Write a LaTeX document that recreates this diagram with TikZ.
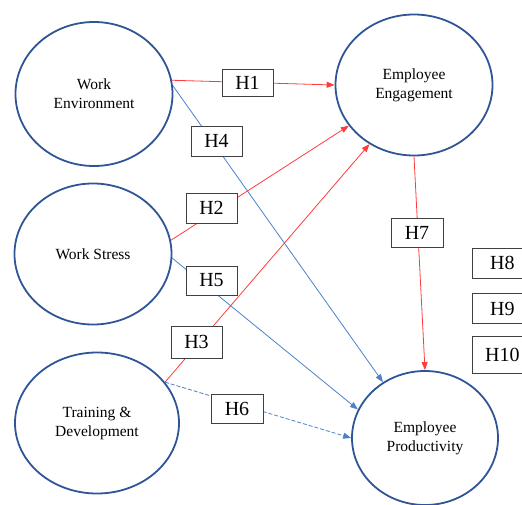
\documentclass[tikz,border=0pt]{standalone}
\usepackage{fontspec}
\setmainfont{Liberation Serif}
\usetikzlibrary{shapes.geometric,arrows.meta}
\definecolor{ellblue}{RGB}{47,85,151}
\definecolor{lred}{RGB}{255,60,60}
\definecolor{lblue}{RGB}{75,130,200}
\begin{document}
\begin{tikzpicture}[x=1pt,y=-1pt,
  var/.style={ellipse,draw=ellblue,line width=1.8pt,inner sep=0pt,align=center,
    font=\fontsize{15.5}{19}\selectfont},
  hbox/.style={draw=black!75,fill=white,line width=0.9pt,minimum width=51pt,
    minimum height=29pt,inner sep=0pt,font=\fontsize{20}{22}\selectfont},
  redarr/.style={lred,line width=0.8pt,-{Triangle[length=8pt,width=6pt]}},
  bluearr/.style={lblue,line width=0.8pt,-{Triangle[length=8pt,width=6pt]}}
]
\useasboundingbox (0,0) rectangle (522,504);
\clip (0,0) rectangle (522,504);
% variables
\node[var,minimum width=157pt,minimum height=144pt] (we) at (94,94) {Work\\Environment};
\node[var,minimum width=157pt,minimum height=141pt] (ee) at (414,85) {Employee\\Engagement};
\node[var,minimum width=157pt,minimum height=141pt] (ws) at (93,254) {Work Stress};
\node[var,minimum width=164pt,minimum height=141pt] (td) at (97,423) {Training \&\\Development};
\node[var,minimum width=146pt,minimum height=134pt] (ep) at (425,438) {Employee\\Productivity};
% connectors
\draw[redarr] (we.10) -- (ee.west);
\draw[redarr] (ws.10) -- (ee.212);
\draw[redarr] (td.31) -- (ee.233);
\draw[bluearr] (we.6) -- (ep.127);
\draw[bluearr] (ws.-3) -- (ep.157);
\draw[bluearr,dashed,dash pattern=on 4pt off 2pt] (td.31) -- (ep.west);
\draw[redarr] (ee.south) -- (ep.north);
% hypothesis boxes
\node[hbox,minimum height=27pt] (h1) at (247.5,83) {H1};
\node[hbox,minimum height=30pt] (h4) at (216.5,141) {H4};
\node[hbox,minimum height=30pt] (h2) at (211.5,208) {H2};
\node[hbox] (h5) at (211.5,280.5) {H5};
\node[hbox,minimum height=32pt] (h3) at (196.5,342) {H3};
\node[hbox,minimum width=52pt] (h6) at (237,408.5) {H6};
\node[hbox,minimum width=52pt] (h7) at (417,232.5) {H7};
\node[hbox,minimum width=60pt,minimum height=30pt,anchor=west] (h8) at (472,263) {H8};
\node[hbox,minimum width=60pt,minimum height=30pt,anchor=west] (h9) at (472,308.5) {H9};
\node[hbox,minimum width=60pt,minimum height=37pt,anchor=west] (h10) at (472,354.5) {H10};
\end{tikzpicture}
\end{document}
